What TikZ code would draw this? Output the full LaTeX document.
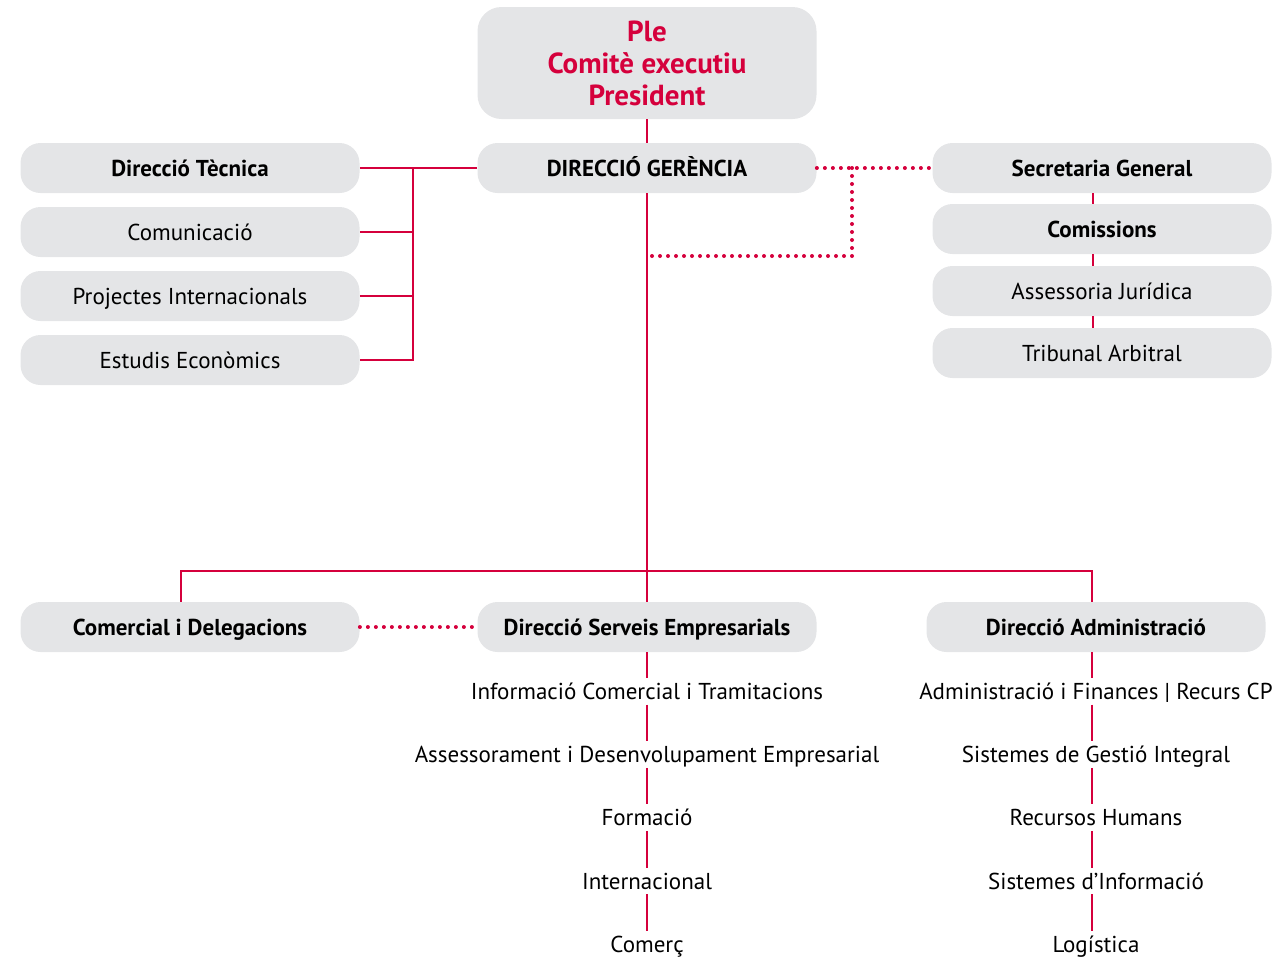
\documentclass[tikz,border=0pt]{standalone}
\usepackage{fontspec}
\setmainfont{PT Sans}
\usetikzlibrary{positioning}
\definecolor{vermell}{RGB}{213,0,60}
\definecolor{gris}{RGB}{228,229,231}
\tikzset{
  fons/.style={fill=gris,rounded corners=10pt,minimum width=169.5pt,minimum height=25pt,inner sep=0pt},
  caixa/.style={fons,text height=9.5pt,text depth=1.5pt,font=\fontsize{11.5}{14}\selectfont},
  negreta/.style={caixa,font=\fontsize{11.5}{14}\selectfont\bfseries},
  item/.style={inner sep=1pt,text height=9.5pt,text depth=1.5pt,font=\fontsize{11.5}{14}\selectfont},
  linia/.style={vermell,line width=1.4pt},
  punts/.style={vermell,line width=2pt,line cap=round,dash pattern=on 0pt off 4pt},
}
\begin{document}
\begin{tikzpicture}[x=0.5pt,y=-0.5pt]
  \useasboundingbox (0,0) rectangle (1275,959);
  \node[fons,minimum height=56pt,rounded corners=12pt,text=vermell,align=center,font=\fontsize{14.5}{16}\selectfont\bfseries] (ple) at (647,63) {Ple\\Comitè executiu\\President};
  \node[negreta] (dg) at (647,168) {DIRECCIÓ GERÈNCIA};
  % esquerra
  \node[negreta] (dt) at (190,168) {Direcció Tècnica};
  \node[caixa] (comu) at (190,232) {Comunicació};
  \node[caixa] (proj) at (190,296) {Projectes Internacionals};
  \node[caixa] (estu) at (190,360) {Estudis Econòmics};
  % dreta
  \node[negreta] (sg) at (1102,168) {Secretaria General};
  \node[negreta] (cms) at (1102,229) {Comissions};
  \node[caixa] (aj) at (1102,291) {Assessoria Jurídica};
  \node[caixa] (ta) at (1102,353) {Tribunal Arbitral};
  % baix
  \node[negreta] (cd) at (190,627) {Comercial i Delegacions};
  \node[negreta] (dse) at (647,627) {Direcció Serveis Empresarials};
  \node[negreta] (da) at (1096,627) {Direcció Administració};
  \foreach \t [count=\i] in {Informació Comercial i Tramitacions,Assessorament i Desenvolupament Empresarial,Formació,Internacional,Comerç}
    \node[item] (s\i) at (647,{628+63.25*\i}) {\t};
  \foreach \t [count=\i] in {Administració i Finances | Recurs CP,Sistemes de Gestió Integral,Recursos Humans,Sistemes d’Informació,Logística}
    \node[item] (a\i) at (1096,{628+63.25*\i}) {\t};

  \coordinate (clau) at (413,168);
  \coordinate (dret) at (1093,0);
  \coordinate (pc) at (852,256);
  \coordinate (bus) at (647,571);
  \coordinate (bl) at (181,571);
  \coordinate (br) at (1092,571);

  \draw[linia] (ple) -- (dg);
  \draw[linia] (dt) -- (dg);
  \foreach \n in {comu,proj,estu}
    \draw[linia] (\n.east) -| (clau);
  \draw[punts] (dg) -- (sg);
  \draw[punts] (pc |- dg) -- (pc) -- (pc -| dg);
  \foreach \a/\b in {sg/cms,cms/aj,aj/ta}
    \draw[linia] (\a.south -| dret) -- (\b.north -| dret);
  \draw[linia] (dg) -- (bus) -- (dse);
  \draw[linia] (cd.north -| bl) -- (bl) -- (br) -- (da.north -| br);
  \draw[punts] (cd) -- (dse);
  \draw[linia] (dse) -- (s1);
  \draw[linia] (da.south -| br) -- (a1.north -| br);
  \foreach \i [evaluate=\i as \j using int(\i+1)] in {1,...,4} {
    \draw[linia] (s\i) -- (s\j);
    \draw[linia] (a\i.south -| br) -- (a\j.north -| br);
  }
\end{tikzpicture}
\end{document}
